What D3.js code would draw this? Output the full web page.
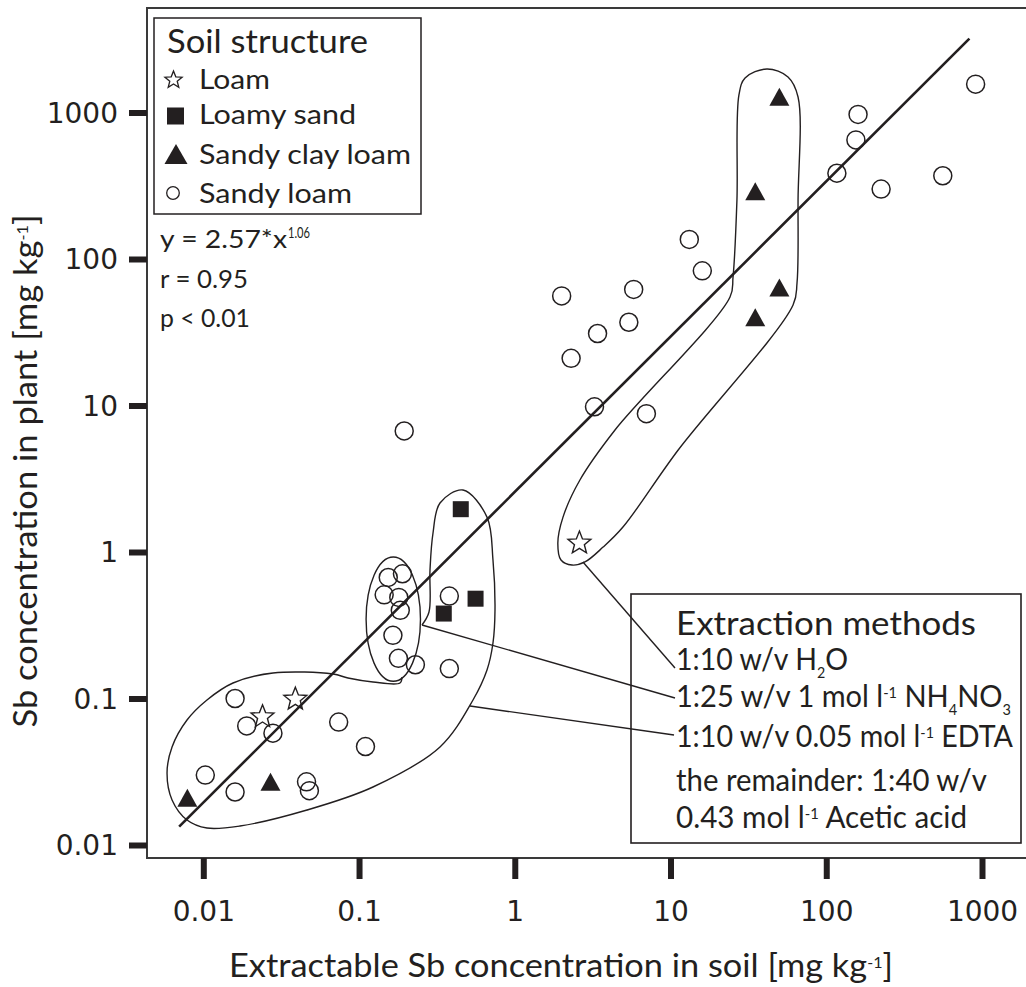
<!DOCTYPE html>
<html>
<head>
<meta charset="utf-8">
<script src="https://cdn.jsdelivr.net/npm/d3@7"></script>
<style>
body { margin: 0; background: #fff; }
text { font-family: Lato, "Open Sans", sans-serif; fill: #231f20; }
</style>
</head>
<body>
<script>
// Values: [extractable Sb in soil, Sb in plant], mg/kg
var loam = [[0.024, 0.075], [0.039, 0.099], [2.6, 1.15]];
var loamySand = [[0.45, 1.96], [0.35, 0.38], [0.56, 0.48]];
var sandyClayLoam = [[0.0079, 0.021], [0.027, 0.027], [50, 1280], [35, 290], [50, 64], [35, 40]];
var sandyLoam = [
	[0.0103, 0.030], [0.016, 0.023], [0.046, 0.027], [0.048, 0.0235], [0.016, 0.100],
	[0.019, 0.065], [0.028, 0.058], [0.074, 0.069], [0.11, 0.047],
	[0.154, 0.67], [0.19, 0.71], [0.145, 0.51], [0.18, 0.49], [0.184, 0.40],
	[0.165, 0.27], [0.179, 0.188], [0.23, 0.17], [0.38, 0.16], [0.38, 0.50],
	[0.195, 6.7],
	[13.2, 136], [16, 83], [2.0, 56], [5.8, 62], [5.4, 37], [3.4, 31], [2.3, 21], [3.25, 9.8], [7.0, 8.8],
	[117, 385], [155, 650], [160, 970], [225, 300], [560, 370], [910, 1560]
];

var tickValues = [0.01, 0.1, 1, 10, 100, 1000];
var tickLabels = ["0.01", "0.1", "1", "10", "100", "1000"];

// fitted power law y = a * x^b, drawn over the range of the line in the figure
var fitA = 2.57, fitB = 1.06;
var fitRange = [0.007, 830];

// hand drawn groupings (data units)
var h2oOutline = [[27.5, 1317], [30.1, 1720], [41.6, 1981], [56.8, 1747], [65.9, 1276], [65.9, 253],
	[64.9, 68.6], [61.2, 48.5], [11.2, 4.97], [4.95, 1.48], [3.69, 1.08], [2.82, 0.855], [2.33, 0.815],
	[1.98, 0.882], [1.89, 1.15], [2.04, 1.73], [2.62, 3.10], [4.40, 6.80], [24.1, 55.0], [25.2, 75.4], [26.7, 253]];
var mixOutline = [[0.2536, 0.3176], [0.2813, 0.3895], [0.2855, 0.7535], [0.2985, 1.348], [0.331, 2.16],
	[0.4651, 2.65], [0.6632, 1.73], [0.7245, 0.882], [0.7464, 0.4019], [0.7245, 0.2392], [0.6632, 0.1565],
	[0.5392, 0.0977], [0.331, 0.0467], [0.1229, 0.02488], [0.04635, 0.01734], [0.01721, 0.01348],
	[0.01056, 0.01306], [0.00786, 0.01481], [0.0063, 0.02029], [0.00585, 0.031], [0.0063, 0.0467],
	[0.00786, 0.0713], [0.01056, 0.0977], [0.01551, 0.1276], [0.02803, 0.1493], [0.068, 0.1469],
	[0.0849, 0.138], [0.1229, 0.1296], [0.1832, 0.1276], [0.1887, 0.1402]];
var clusterBounds = {soil: [0.111, 0.248], plant: [0.131, 0.925]};
var calloutStarts = [[2.74, 0.855], [0.2536, 0.3176], [0.516, 0.0889]];

var W = 1026, H = 987;
var ink = "#231f20";

var x = d3.scaleLog().domain([0.01, 1000]).range([203.3, 982]);
var y = d3.scaleLog().domain([0.01, 1000]).range([845, 112.5]);

var svg = d3.select("body").append("svg")
	.attr("width", W).attr("height", H)
	.style("display", "block");

svg.append("rect").attr("width", W).attr("height", H).attr("fill", "#fff");

// frame (its right edge sits outside the picture)
svg.append("rect")
	.attr("x", 147).attr("y", 8)
	.attr("width", 885).attr("height", 850)
	.attr("fill", "none").attr("stroke", "#3a3a3a").attr("stroke-width", 2);

// axes
var xAxis = svg.append("g")
	.attr("transform", "translate(0,858)")
	.call(d3.axisBottom(x).tickValues(tickValues)
		.tickFormat(function (d, i) {return tickLabels[i];})
		.tickSize(21).tickPadding(22));
var yAxis = svg.append("g")
	.attr("transform", "translate(147,0)")
	.call(d3.axisLeft(y).tickValues(tickValues)
		.tickFormat(function (d, i) {return tickLabels[i];})
		.tickSize(18).tickPadding(11));

[xAxis, yAxis].forEach(function (ax) {
	ax.select(".domain").remove();
	ax.selectAll(".tick line").attr("stroke", ink).attr("stroke-width", 6);
	ax.selectAll(".tick text")
		.style("font-family", "'DejaVu Sans', Verdana, sans-serif")
		.style("font-size", "28px");
});
yAxis.selectAll(".tick text").attr("dy", "0.35em");

// outlines
var openLine = d3.line().x(function (d) {return x(d[0]);}).y(function (d) {return y(d[1]);})
	.curve(d3.curveCatmullRom.alpha(0.5));
var closedLine = d3.line().x(function (d) {return x(d[0]);}).y(function (d) {return y(d[1]);})
	.curve(d3.curveCatmullRomClosed.alpha(0.5));

var outlines = svg.append("g").attr("fill", "none").attr("stroke", ink).attr("stroke-width", 1.4);
outlines.append("path").attr("d", closedLine(h2oOutline));
outlines.append("path").attr("d", openLine(mixOutline));
outlines.append("ellipse")
	.attr("cx", (x(clusterBounds.soil[0]) + x(clusterBounds.soil[1])) / 2)
	.attr("cy", (y(clusterBounds.plant[0]) + y(clusterBounds.plant[1])) / 2)
	.attr("rx", (x(clusterBounds.soil[1]) - x(clusterBounds.soil[0])) / 2)
	.attr("ry", (y(clusterBounds.plant[0]) - y(clusterBounds.plant[1])) / 2);

// regression line
svg.append("line")
	.attr("x1", x(fitRange[0])).attr("y1", y(fitA * Math.pow(fitRange[0], fitB)))
	.attr("x2", x(fitRange[1])).attr("y2", y(fitA * Math.pow(fitRange[1], fitB)))
	.attr("stroke", ink).attr("stroke-width", 2.6);

// markers
function starPath(R, r) {
	var p = [];
	for (var i = 0; i < 10; i++) {
		var a = -Math.PI / 2 + i * Math.PI / 5;
		var rad = i % 2 ? r : R;
		p.push([rad * Math.cos(a), rad * Math.sin(a)]);
	}
	return "M" + p.join("L") + "Z";
}
function triPath(w, h) {
	return "M0," + (-h / 2) + "L" + (w / 2) + "," + (h / 2) + "L" + (-w / 2) + "," + (h / 2) + "Z";
}
function place(d) {return "translate(" + x(d[0]) + "," + y(d[1]) + ")";}

svg.append("g").selectAll("circle").data(sandyLoam).enter().append("circle")
	.attr("cx", function (d) {return x(d[0]);})
	.attr("cy", function (d) {return y(d[1]);})
	.attr("r", 9)
	.attr("fill", "none").attr("stroke", ink).attr("stroke-width", 1.5);

svg.append("g").selectAll("path").data(sandyClayLoam).enter().append("path")
	.attr("transform", place)
	.attr("d", triPath(20, 18))
	.attr("fill", ink);

svg.append("g").selectAll("rect").data(loamySand).enter().append("rect")
	.attr("x", function (d) {return x(d[0]) - 8;})
	.attr("y", function (d) {return y(d[1]) - 8;})
	.attr("width", 16).attr("height", 16)
	.attr("fill", ink);

svg.append("g").selectAll("path").data(loam).enter().append("path")
	.attr("transform", place)
	.attr("d", starPath(12, 5.2))
	.attr("fill", "none").attr("stroke", ink).attr("stroke-width", 1.4);

// legend
var leg = svg.append("g");
leg.append("rect").attr("x", 154).attr("y", 18).attr("width", 267).attr("height", 196)
	.attr("fill", "#fff").attr("stroke", ink).attr("stroke-width", 1.5);
leg.append("text").attr("x", 167).attr("y", 53).style("font-size", "33px")
	.attr("textLength", 201).attr("lengthAdjust", "spacingAndGlyphs").text("Soil structure");
leg.append("path").attr("transform", "translate(173.5,80)").attr("d", starPath(9, 3.9))
	.attr("fill", "none").attr("stroke", ink).attr("stroke-width", 1.3);
leg.append("rect").attr("x", 167).attr("y", 107.5).attr("width", 17).attr("height", 17).attr("fill", ink);
leg.append("path").attr("transform", "translate(176,154)").attr("d", triPath(23, 20)).attr("fill", ink);
leg.append("circle").attr("cx", 173).attr("cy", 193).attr("r", 6.3)
	.attr("fill", "none").attr("stroke", ink).attr("stroke-width", 1.3);
[["Loam", 89, 71], ["Loamy sand", 124, 157], ["Sandy clay loam", 164, 212], ["Sandy loam", 203, 153]]
	.forEach(function (r) {
		leg.append("text").attr("x", 199).attr("y", r[1]).style("font-size", "26px")
			.attr("textLength", r[2]).attr("lengthAdjust", "spacingAndGlyphs").text(r[0]);
	});

// regression statistics
svg.append("text").attr("x", 160).attr("y", 248).style("font-size", "25px")
	.attr("textLength", 127).attr("lengthAdjust", "spacingAndGlyphs").text("y = 2.57*x");
svg.append("text").attr("x", 288).attr("y", 238).style("font-size", "15px")
	.attr("textLength", 22).attr("lengthAdjust", "spacingAndGlyphs").text("1.06");
svg.append("text").attr("x", 160).attr("y", 288).style("font-size", "25px")
	.attr("textLength", 88).attr("lengthAdjust", "spacingAndGlyphs").text("r = 0.95");
svg.append("text").attr("x", 160).attr("y", 327).style("font-size", "25px")
	.attr("textLength", 90).attr("lengthAdjust", "spacingAndGlyphs").text("p < 0.01");

// extraction methods box
var box = svg.append("g");
box.append("rect").attr("x", 631).attr("y", 594).attr("width", 390).attr("height", 249)
	.attr("fill", "#fff").attr("stroke", ink).attr("stroke-width", 1.6);

function rich(sel, parts) {
	var shift = 0;
	parts.forEach(function (p) {
		var target = p[1] === "sup" ? -9 : p[1] === "sub" ? 8 : 0;
		sel.append("tspan").attr("dy", target - shift)
			.style("font-size", p[1] ? "15px" : null)
			.text(p[0]);
		shift = target;
	});
}
var rows = [
	{y: 635, len: 300, size: 32, parts: [["Extraction methods"]]},
	{y: 670, len: 172, size: 30, parts: [["1:10 w/v H"], ["2", "sub"], ["O"]]},
	{y: 707, len: 335, size: 30, parts: [["1:25 w/v 1 mol l"], ["-1", "sup"], [" NH"], ["4", "sub"], ["NO"], ["3", "sub"]]},
	{y: 747, len: 337, size: 30, parts: [["1:10 w/v 0.05 mol l"], ["-1", "sup"], [" EDTA"]]},
	{y: 791, len: 311, size: 30, parts: [["the remainder: 1:40 w/v"]]},
	{y: 828, len: 291, size: 30, parts: [["0.43 mol l"], ["-1", "sup"], [" Acetic acid"]]}
];
rows.forEach(function (r) {
	var t = box.append("text").attr("x", 676).attr("y", r.y).style("font-size", r.size + "px")
		.attr("textLength", r.len).attr("lengthAdjust", "spacingAndGlyphs");
	rich(t, r.parts);
});

// callout lines from the groups to their labels
var calloutEnds = [[675, 668], [675, 698], [674, 735]];
svg.append("g").selectAll("line").data(calloutStarts).enter().append("line")
	.attr("x1", function (d) {return x(d[0]);})
	.attr("y1", function (d) {return y(d[1]);})
	.attr("x2", function (d, i) {return calloutEnds[i][0];})
	.attr("y2", function (d, i) {return calloutEnds[i][1];})
	.attr("stroke", ink).attr("stroke-width", 1.4);

// axis titles
var xt = svg.append("text").attr("x", 229).attr("y", 977).style("font-size", "32px")
	.attr("textLength", 664).attr("lengthAdjust", "spacingAndGlyphs");
rich(xt, [["Extractable Sb concentration in soil [mg kg"], ["-1", "sup"], ["]"]]);
var yt = svg.append("text").attr("transform", "translate(37,471) rotate(-90)")
	.attr("text-anchor", "middle").style("font-size", "32px")
	.attr("textLength", 513).attr("lengthAdjust", "spacingAndGlyphs");
rich(yt, [["Sb concentration in plant [mg kg"], ["-1", "sup"], ["]"]]);
</script>
</body>
</html>
